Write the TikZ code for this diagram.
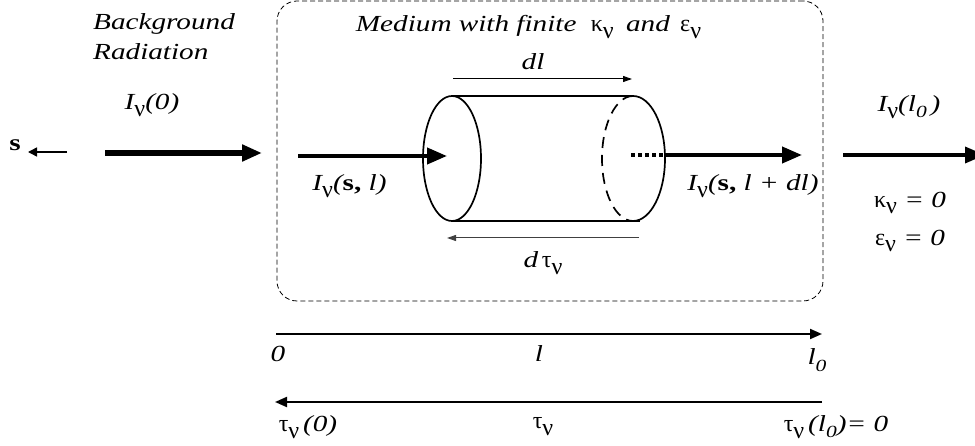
\documentclass[tikz,border=0pt]{standalone}
\usepackage{xcolor}
\usepackage{fontspec}
\setmainfont[FakeStretch=1.27]{Liberation Serif}
\newfontfamily\grk{Liberation Serif}
\usetikzlibrary{arrows.meta, positioning, calc}
\definecolor{tauline}{HTML}{404040}
\newcommand{\gk}[1]{{\grk\upshape\fontsize{24}{24}\selectfont #1}}
\newcommand{\nub}{\raisebox{-0.3em}{\gk{ν}}}
\newcommand{\lsub}{\raisebox{-0.28em}{\fontsize{17}{17}\selectfont 0}}

\begin{document}
\begin{tikzpicture}[x=1pt, y=-1pt,
  lbl/.style={inner sep=0pt, font=\fontsize{23}{30}\selectfont\itshape},
  beam/.style={-{Triangle[length=20pt, width=16pt]}, line width=#1},
  beam/.default=4pt,
  axis/.style={-{Triangle[length=12pt, width=10pt]}, line width=2pt},
  span/.style={-{Triangle[length=9pt, width=6pt]}, line width=1pt},
  cyl/.style={line width=1.7pt}]
  \useasboundingbox (0,0) rectangle (975,446);
  \clip (0,0) rectangle (975,446);

  % medium
  \node[draw, line width=0.8pt, dash pattern=on 5pt off 3pt, rounded corners=20pt, inner sep=0pt, minimum width=546pt, minimum height=300pt] (medium) at (550,151) {};
  \node[lbl] (mediumlbl) at (528.5,27) {Medium with finite \hspace{7pt}\gk{κ}\nub\hspace{5pt} and \hspace{3pt}\gk{ε}\nub};

  % cylinder
  \coordinate (topL) at (452,96);
  \coordinate (topR) at (634,96);
  \coordinate (botL) at (452,221);
  \coordinate (botR) at (640,221);
  \coordinate (capT) at (633,96);
  \coordinate (capB) at (633,221);
  \draw[cyl] (452,158.5) ellipse [x radius=29, y radius=62.5];
  \draw[cyl] (topL) -- (topR);
  \draw[cyl] (botL) -- (botR);
  \draw[cyl] (capB) arc [start angle=90, end angle=-90, x radius=32, y radius=62.5];
  \draw[cyl, dash pattern=on 11pt off 7pt] (capT) arc [start angle=-90, end angle=-270, x radius=31, y radius=62.5];

  % left side
  \node[lbl, align=left, anchor=west] (bg) at (93,37) {Background\\Radiation};
  \node[lbl] (i0) at (152,105) {I\nub(0)};
  \node[inner sep=0pt, font=\fontsize{23}{30}\selectfont\bfseries] (dirs) at (15,145) {s};
  \coordinate (dirsA) at (67,152);
  \coordinate (dirsB) at (28,152);
  \draw[-{Triangle[length=9pt, width=9pt]}, line width=1.5pt] (dirsA) -- (dirsB);
  \coordinate (bgA) at (105,153);
  \coordinate (bgB) at (262,153);
  \draw[beam=6pt] (bgA) -- (bgB);

  % beam through the medium
  \coordinate (inA) at (298,156);
  \coordinate (inB) at (447,156);
  \draw[beam] (inA) -- (inB);
  \node[lbl] (isl) at (349.5,186) {I\nub({\upshape\bfseries s,} l)};
  \coordinate (dotA) at (631,155);
  \coordinate (dotB) at (665,155);
  \coordinate (outB) at (802,155);
  \draw[line width=4pt, dash pattern=on 4pt off 3pt] (dotA) -- (dotB);
  \draw[beam] (dotB) -- (outB);
  \node[lbl] (isldl) at (753,186) {I\nub({\upshape\bfseries s,} l + dl)};

  % element lengths
  \coordinate (dlA) at (453,79);
  \coordinate (dlB) at (632,79);
  \draw[span] (dlA) -- (dlB);
  \node[lbl] (dl) at (533,62) {dl};
  \coordinate (dtA) at (639,238);
  \coordinate (dtB) at (447,238);
  \draw[span, tauline] (dtA) -- (dtB);
  \node[lbl] (dt) at (543,263) {d\,\gk{τ}\nub};

  % right side
  \node[lbl] (il0) at (909,107) {I\nub(l\lsub\,)};
  \coordinate (freeA) at (843,155);
  \coordinate (freeB) at (985,155);
  \draw[beam=3.5pt] (freeA) -- (freeB);
  \node[lbl] (kap) at (910,203) {\gk{κ}\nub{} = 0};
  \node[lbl] (eps) at (910,241) {\gk{ε}\nub{} = 0};

  % axes
  \coordinate (lA) at (276,334);
  \coordinate (lB) at (822,334);
  \draw[axis] (lA) -- (lB);
  \node[lbl] (l0a) at (278,354) {0};
  \node[lbl] (lmid) at (539,354) {l};
  \node[lbl] (lend) at (817,360) {l\lsub};
  \coordinate (tA) at (822,402);
  \coordinate (tB) at (275,402);
  \draw[axis] (tA) -- (tB);
  \node[lbl] (t0) at (308,427) {\gk{τ}\nub\,(0)};
  \node[lbl] (tmid) at (543,427) {\gk{τ}\nub};
  \node[lbl] (tend) at (836,427) {\gk{τ}\nub\,(l\lsub)= 0};
\end{tikzpicture}
\end{document}
